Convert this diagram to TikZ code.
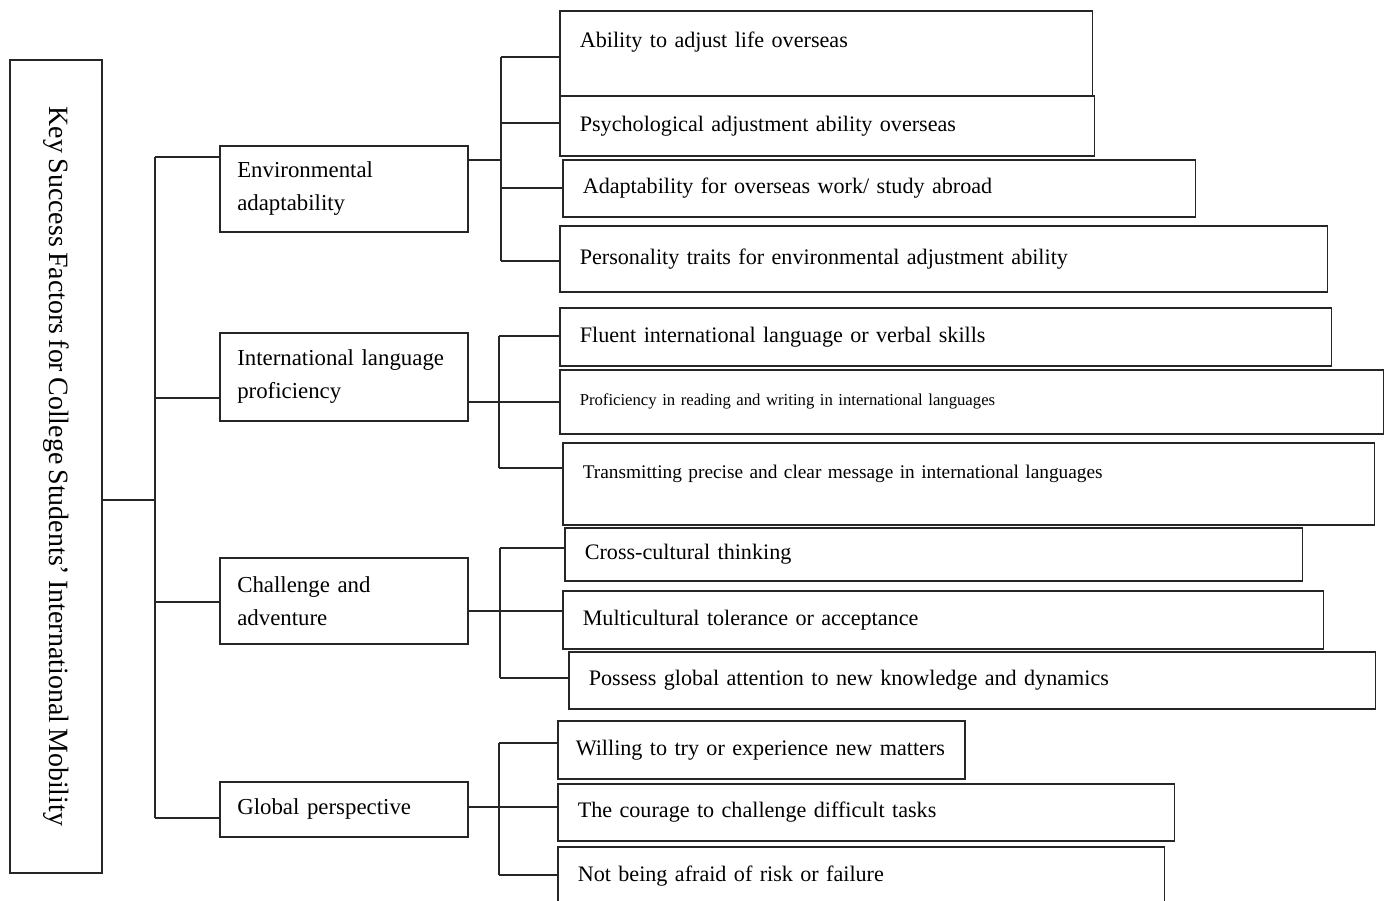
\documentclass[tikz,border=0pt]{standalone}
\usepackage{fontspec}
\setmainfont{Liberation Serif}[WordSpace=0.75]
\usepackage{tikz}
\hyphenpenalty=10000
\exhyphenpenalty=10000

\begin{document}
\begin{tikzpicture}[
    x=0.02cm, y=-0.02cm,
    line/.style={draw=black!85, line width=0.8pt},
    rootbox/.style={draw=black!85, line width=0.9pt, rotate=-90, minimum width=16.26cm, minimum height=1.84cm, font=\fontsize{15.9}{18}\selectfont},
    mid/.style={draw=black!85, line width=0.9pt, anchor=north west, align=left, text width=4.26cm, inner xsep=0.35cm, font=\fontsize{13}{18.7}\selectfont},
    leaf/.style={draw=black!85, line width=0.9pt, anchor=north west, align=left, inner xsep=0.40cm, font=\fontsize{12.6}{15.2}\selectfont}
]
\useasboundingbox (0,0) rectangle (1388,901);

\node[rootbox] (root) at (56,466.5) {Key Success Factors for College Students’ International Mobility};

\node[mid, minimum height=1.72cm] (m1) at (219,145) {Environmental\\adaptability};
\node[mid, minimum height=1.76cm] (m2) at (219,332) {International language\\proficiency};
\node[mid, minimum height=1.72cm] (m3) at (219,557) {Challenge and\\adventure};
\node[mid, minimum height=1.10cm] (m4) at (219,781) {Global perspective};

\node[leaf, text width=9.86cm, minimum height=1.70cm] (a1) at (559,10) {Ability to adjust life overseas\\\mbox{}};
\node[leaf, text width=9.90cm, minimum height=1.20cm] (a2) at (559,95) {Psychological adjustment ability overseas};
\node[leaf, text width=11.86cm, minimum height=1.14cm] (a3) at (562,159) {Adaptability for overseas work/ study abroad};
\node[leaf, text width=14.56cm, minimum height=1.32cm] (a4) at (559,225) {Personality traits for environmental adjustment ability};

\node[leaf, text width=14.64cm, minimum height=1.16cm] (b1) at (559,307) {Fluent international language or verbal skills};
\node[leaf, text width=15.68cm, minimum height=1.28cm, font=\fontsize{9.5}{11.4}\selectfont] (b2) at (559,369) {Proficiency in reading and writing in international languages};
\node[leaf, text width=15.44cm, minimum height=1.64cm, font=\fontsize{11}{13.2}\selectfont] (b3) at (562,442) {Transmitting precise and clear message in international languages\\\mbox{}};

\node[leaf, text width=13.96cm, minimum height=1.06cm] (c1) at (564,527) {Cross-cultural thinking};
\node[leaf, text width=14.42cm, minimum height=1.16cm] (c2) at (562,590) {Multicultural tolerance or acceptance};
\node[leaf, text width=15.34cm, minimum height=1.14cm] (c3) at (568,651) {Possess global attention to new knowledge and dynamics};

\node[leaf, text width=7.42cm, inner xsep=0.36cm, minimum height=1.16cm] (d1) at (557,720) {\mbox{Willing to try or experience new matters}};
\node[leaf, text width=11.54cm, minimum height=1.14cm] (d2) at (557,783) {The courage to challenge difficult tasks};
\node[leaf, text width=11.34cm, minimum height=1.18cm] (d3) at (557,846) {Not being afraid of risk or failure};

\coordinate (t0) at (155,500);
\coordinate (t1) at (155,157);
\coordinate (t2) at (155,398);
\coordinate (t3) at (155,602);
\coordinate (t4) at (155,818);
\draw[line] (root.north |- t0) -- (t0);
\draw[line] (t1) -- (t4);
\foreach \t/\m in {t1/m1, t2/m2, t3/m3, t4/m4}
  \draw[line] (\t) -- (\t -| \m.west);

\foreach \m/\x/\y/\ya/\yb in {m1/501/160/57/261, m2/499/402/336/468, m3/500/611/548/678, m4/499/807/743/875}{
  \coordinate (s) at (\x,\y);
  \draw[line] (\m.east |- s) -- (s);
  \draw[line] (\x,\ya) -- (\x,\yb);
}
\foreach \n/\x/\y in {a1/501/57, a2/501/123, a3/501/188, a4/501/261, b1/499/336, b2/499/402, b3/499/468, c1/500/548, c2/500/611, c3/500/678, d1/499/743, d2/499/807, d3/499/875}{
  \coordinate (j) at (\x,\y);
  \draw[line] (j) -- (j -| \n.west);
}
\end{tikzpicture}
\end{document}
